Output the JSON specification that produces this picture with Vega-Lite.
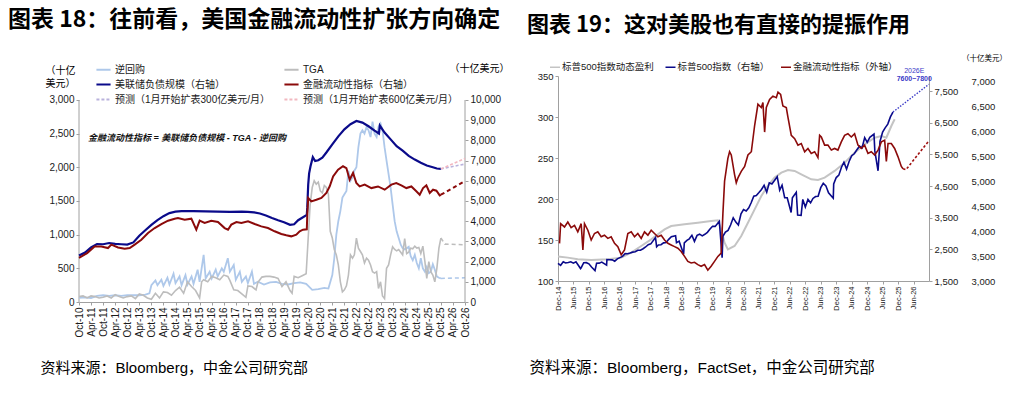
{
"$schema": "https://vega.github.io/schema/vega-lite/v6.json",
"background": "white",
"padding": {"left": 8, "top": 8, "right": 0, "bottom": 0},
"spacing": 18,
"config": {
  "view": {"stroke": null},
  "font": "Liberation Sans, Noto Sans CJK SC",
  "axis": {"grid": false, "domainColor": "#a0a0a0", "tickColor": "#a0a0a0", "labelColor": "#1a1a1a", "labelFont": "Liberation Sans", "titleFont": "Noto Sans CJK SC", "titleFontWeight": "normal", "titleColor": "#000000", "tickSize": 3, "labelFlush": false, "labelOverlap": false, "labelBound": false},
  "title": {"font": "Noto Sans CJK SC", "fontWeight": "bold", "fontSize": 22, "color": "#000000"},
  "legend": {"padding": 0, "labelFont": "Liberation Sans, Noto Sans CJK SC", "labelColor": "#1a1a1a", "labelLimit": 300}
},
"resolve": {"scale": {"color": "independent", "strokeDash": "independent"}},
"hconcat": [
{
  "width": 386, "height": 226,
  "title": {"text": "图表 18：往前看，美国金融流动性扩张方向确定", "anchor": "start", "frame": "group", "dx": -71, "offset": 29.5, "fontSize": 23},
  "encoding": {
    "x": {"field": "d", "type": "temporal",
      "scale": {"domain": [{"year": 2010, "month": 10, "date": 1}, {"year": 2026, "month": 10, "date": 1}]},
      "axis": {
        "values": [{"year":2010,"month":10,"date":1},{"year":2011,"month":4,"date":1},{"year":2011,"month":10,"date":1},{"year":2012,"month":4,"date":1},{"year":2012,"month":10,"date":1},{"year":2013,"month":4,"date":1},{"year":2013,"month":10,"date":1},{"year":2014,"month":4,"date":1},{"year":2014,"month":10,"date":1},{"year":2015,"month":4,"date":1},{"year":2015,"month":10,"date":1},{"year":2016,"month":4,"date":1},{"year":2016,"month":10,"date":1},{"year":2017,"month":4,"date":1},{"year":2017,"month":10,"date":1},{"year":2018,"month":4,"date":1},{"year":2018,"month":10,"date":1},{"year":2019,"month":4,"date":1},{"year":2019,"month":10,"date":1},{"year":2020,"month":4,"date":1},{"year":2020,"month":10,"date":1},{"year":2021,"month":4,"date":1},{"year":2021,"month":10,"date":1},{"year":2022,"month":4,"date":1},{"year":2022,"month":10,"date":1},{"year":2023,"month":4,"date":1},{"year":2023,"month":10,"date":1},{"year":2024,"month":4,"date":1},{"year":2024,"month":10,"date":1},{"year":2025,"month":4,"date":1},{"year":2025,"month":10,"date":1},{"year":2026,"month":4,"date":1},{"year":2026,"month":10,"date":1}],
        "format": "%b-%y", "labelAngle": -90, "labelFontSize": 10,
        "title": "资料来源：Bloomberg，中金公司研究部", "titleX": -39, "titleY": 65, "titleAlign": "left", "titleAnchor": "start", "titleBaseline": "middle", "titleFontSize": 15, "titleFont": "Liberation Sans Narrow, Liberation Sans, Noto Sans CJK SC"
      }
    }
  },
  "layer": [
    {
      "encoding": {"y": {"field": "v", "type": "quantitative", "scale": {"domain": [0, 3356.4], "nice": false},
        "axis": {"orient": "left", "values": [0,500,1000,1500,2000,2500,3000], "format": ",.0f", "labelFontSize": 10, "domain": false,
          "title": ["（十亿", "美元）"], "titleAngle": 0, "titleX": -19, "titleY": -5.5, "titleAlign": "center", "titleBaseline": "middle", "titleFontSize": 10, "titleLineHeight": 13}}},
      "layer": [
        {"data": {"values": [{"d":"2010-10-01","v":0,"v2":3000}]},
         "mark": {"type": "rule", "color": "#a0a0a0", "strokeWidth": 1},
         "encoding": {"y2": {"field": "v2"}}},
        {"data": {"values": [{"d":"2010-10","v":60},{"d":"2011-01","v":70},{"d":"2011-04","v":60},{"d":"2011-07","v":90},{"d":"2011-10","v":100},{"d":"2012-01","v":90},{"d":"2012-04","v":100},{"d":"2012-07","v":90},{"d":"2012-10","v":100},{"d":"2013-01","v":100},{"d":"2013-04","v":100},{"d":"2013-07","v":110},{"d":"2013-09","v":130},{"d":"2013-10","v":250},{"d":"2013-12","v":320},{"d":"2014-01","v":250},{"d":"2014-03","v":330},{"d":"2014-04","v":240},{"d":"2014-06","v":360},{"d":"2014-07","v":260},{"d":"2014-09","v":420},{"d":"2014-10","v":280},{"d":"2014-12","v":380},{"d":"2015-01","v":250},{"d":"2015-03","v":400},{"d":"2015-04","v":260},{"d":"2015-06","v":380},{"d":"2015-07","v":270},{"d":"2015-09","v":480},{"d":"2015-10","v":300},{"d":"2015-12","v":700},{"d":"2016-01","v":350},{"d":"2016-03","v":450},{"d":"2016-04","v":350},{"d":"2016-06","v":480},{"d":"2016-07","v":380},{"d":"2016-09","v":500},{"d":"2016-10","v":450},{"d":"2016-12","v":650},{"d":"2017-01","v":450},{"d":"2017-03","v":550},{"d":"2017-04","v":330},{"d":"2017-06","v":450},{"d":"2017-07","v":300},{"d":"2017-09","v":380},{"d":"2017-10","v":280},{"d":"2017-12","v":450},{"d":"2018-01","v":270},{"d":"2018-03","v":300},{"d":"2018-06","v":260},{"d":"2018-09","v":290},{"d":"2018-12","v":300},{"d":"2019-03","v":270},{"d":"2019-06","v":260},{"d":"2019-09","v":280},{"d":"2019-12","v":290},{"d":"2020-03","v":270},{"d":"2020-06","v":180},{"d":"2020-09","v":190},{"d":"2020-12","v":210},{"d":"2021-02","v":200},{"d":"2021-04","v":400},{"d":"2021-05","v":650},{"d":"2021-06","v":1000},{"d":"2021-07","v":1200},{"d":"2021-08","v":1350},{"d":"2021-09","v":1550},{"d":"2021-10","v":1600},{"d":"2021-11","v":1650},{"d":"2021-12","v":1950},{"d":"2022-01","v":1800},{"d":"2022-02","v":1850},{"d":"2022-03","v":1950},{"d":"2022-04","v":2000},{"d":"2022-05","v":2300},{"d":"2022-06","v":2500},{"d":"2022-07","v":2550},{"d":"2022-08","v":2500},{"d":"2022-09","v":2600},{"d":"2022-10","v":2550},{"d":"2022-11","v":2450},{"d":"2022-12","v":2680},{"d":"2023-01","v":2500},{"d":"2023-02","v":2450},{"d":"2023-03","v":2600},{"d":"2023-04","v":2650},{"d":"2023-05","v":2550},{"d":"2023-06","v":2300},{"d":"2023-07","v":2100},{"d":"2023-08","v":1900},{"d":"2023-09","v":1700},{"d":"2023-10","v":1450},{"d":"2023-11","v":1200},{"d":"2023-12","v":1050},{"d":"2024-01","v":950},{"d":"2024-02","v":850},{"d":"2024-03","v":800},{"d":"2024-04","v":780},{"d":"2024-05","v":800},{"d":"2024-06","v":820},{"d":"2024-07","v":680},{"d":"2024-08","v":620},{"d":"2024-09","v":700},{"d":"2024-10","v":580},{"d":"2024-11","v":500},{"d":"2024-12","v":650},{"d":"2025-01","v":500},{"d":"2025-02","v":450},{"d":"2025-03","v":520},{"d":"2025-04","v":430},{"d":"2025-05","v":450},{"d":"2025-06","v":560},{"d":"2025-07","v":480},{"d":"2025-08","v":380},{"d":"2025-09","v":360},{"d":"2025-10","v":350}]},
         "mark": {"type": "line", "strokeWidth": 1.8},
         "encoding": {"color": {"datum": "逆回购", "type": "nominal",
           "scale": {"domain": ["逆回购", "TGA", "美联储负债规模（右轴）", "金融流动性指标（右轴）", "预测（1月开始扩表300亿美元/月）", "预测（1月开始扩表600亿美元/月）"], "range": ["#aec8ea", "#bdbdbd", "#0a0a8a", "#8b0a0a", "#b9b2dc", "#f2b8c0"]},
           "legend": {"orient": "none", "legendX": 16, "legendY": -15, "columns": 2, "direction": "horizontal", "title": null, "symbolType": "stroke", "symbolSize": 200, "symbolStrokeWidth": 2, "labelFontSize": 10, "labelOffset": 3, "columnPadding": 9, "rowPadding": 1,
             "encode": {"symbols": {"update": {"strokeDash": {"signal": "indexof(datum.label, '预测') === 0 ? [3, 2] : [1, 0]"}}}}}}}},
        {"data": {"values": [{"d":"2010-10","v":80},{"d":"2010-12","v":90},{"d":"2011-02","v":60},{"d":"2011-04","v":90},{"d":"2011-06","v":80},{"d":"2011-08","v":60},{"d":"2011-10","v":70},{"d":"2011-12","v":90},{"d":"2012-02","v":60},{"d":"2012-04","v":110},{"d":"2012-06","v":80},{"d":"2012-08","v":60},{"d":"2012-10","v":80},{"d":"2012-12","v":90},{"d":"2013-02","v":50},{"d":"2013-04","v":120},{"d":"2013-06","v":100},{"d":"2013-08","v":60},{"d":"2013-10","v":40},{"d":"2013-12","v":130},{"d":"2014-02","v":60},{"d":"2014-04","v":150},{"d":"2014-06","v":140},{"d":"2014-08","v":100},{"d":"2014-10","v":170},{"d":"2014-12","v":220},{"d":"2015-02","v":130},{"d":"2015-04","v":300},{"d":"2015-06","v":230},{"d":"2015-08","v":170},{"d":"2015-10","v":60},{"d":"2015-11","v":300},{"d":"2015-12","v":330},{"d":"2016-02","v":300},{"d":"2016-04","v":380},{"d":"2016-06","v":360},{"d":"2016-08","v":330},{"d":"2016-10","v":400},{"d":"2016-12","v":380},{"d":"2017-01","v":320},{"d":"2017-03","v":180},{"d":"2017-05","v":170},{"d":"2017-07","v":120},{"d":"2017-09","v":70},{"d":"2017-10","v":240},{"d":"2017-12","v":230},{"d":"2018-02","v":180},{"d":"2018-03","v":290},{"d":"2018-05","v":370},{"d":"2018-07","v":380},{"d":"2018-09","v":380},{"d":"2018-11","v":370},{"d":"2019-01","v":350},{"d":"2019-03","v":230},{"d":"2019-05","v":300},{"d":"2019-07","v":170},{"d":"2019-08","v":130},{"d":"2019-09","v":380},{"d":"2019-11","v":360},{"d":"2020-01","v":390},{"d":"2020-03","v":420},{"d":"2020-04","v":950},{"d":"2020-05","v":1450},{"d":"2020-06","v":1700},{"d":"2020-07","v":1800},{"d":"2020-08","v":1750},{"d":"2020-09","v":1780},{"d":"2020-10","v":1650},{"d":"2020-11","v":1620},{"d":"2020-12","v":1730},{"d":"2021-01","v":1700},{"d":"2021-02","v":1600},{"d":"2021-03","v":1050},{"d":"2021-04","v":950},{"d":"2021-05","v":780},{"d":"2021-06","v":700},{"d":"2021-07","v":550},{"d":"2021-08","v":300},{"d":"2021-09","v":150},{"d":"2021-10","v":180},{"d":"2021-11","v":240},{"d":"2021-12","v":400},{"d":"2022-01","v":700},{"d":"2022-02","v":650},{"d":"2022-03","v":700},{"d":"2022-04","v":950},{"d":"2022-05","v":800},{"d":"2022-06","v":750},{"d":"2022-07","v":700},{"d":"2022-08","v":580},{"d":"2022-09","v":650},{"d":"2022-10","v":620},{"d":"2022-11","v":550},{"d":"2022-12","v":450},{"d":"2023-01","v":430},{"d":"2023-02","v":450},{"d":"2023-03","v":200},{"d":"2023-04","v":300},{"d":"2023-05","v":90},{"d":"2023-06","v":50},{"d":"2023-07","v":500},{"d":"2023-08","v":550},{"d":"2023-09","v":700},{"d":"2023-10","v":820},{"d":"2023-11","v":780},{"d":"2023-12","v":760},{"d":"2024-01","v":780},{"d":"2024-02","v":740},{"d":"2024-03","v":700},{"d":"2024-04","v":940},{"d":"2024-05","v":720},{"d":"2024-06","v":740},{"d":"2024-07","v":800},{"d":"2024-08","v":790},{"d":"2024-09","v":830},{"d":"2024-10","v":800},{"d":"2024-11","v":810},{"d":"2024-12","v":720},{"d":"2025-01","v":830},{"d":"2025-02","v":600},{"d":"2025-03","v":350},{"d":"2025-04","v":600},{"d":"2025-05","v":450},{"d":"2025-06","v":400},{"d":"2025-07","v":300},{"d":"2025-08","v":500},{"d":"2025-09","v":800},{"d":"2025-10","v":950}]},
         "mark": {"type": "line", "strokeWidth": 1.6},
         "encoding": {"color": {"datum": "TGA", "type": "nominal"}}},
        {"data": {"values": [{"d":"2025-10","v":350},{"d":"2026-10","v":360}]},
         "mark": {"type": "line", "color": "#aec8ea", "strokeDash": [4, 3], "strokeWidth": 1.6}, "encoding": {}},
        {"data": {"values": [{"d":"2025-10","v":950},{"d":"2025-12","v":860},{"d":"2026-10","v":850}]},
         "mark": {"type": "line", "color": "#bdbdbd", "strokeDash": [4, 3], "strokeWidth": 1.6}, "encoding": {}},
        {"data": {"values": [{"d":"2011-02-15","v":2440,"t":"金融流动性指标 = 美联储负债规模 - TGA - 逆回购"}]},
         "mark": {"type": "text", "align": "left", "baseline": "middle", "font": "Liberation Sans, Noto Sans CJK SC", "fontSize": 9, "fontStyle": "italic", "fontWeight": "bold", "color": "#111111"},
         "encoding": {"text": {"field": "t"}}}
      ]
    },
    {
      "encoding": {"y": {"field": "v", "type": "quantitative", "scale": {"domain": [0, 11188], "nice": false},
        "axis": {"orient": "right", "values": [0,1000,2000,3000,4000,5000,6000,7000,8000,9000,10000], "format": ",.0f", "labelFontSize": 10, "domain": false,
          "title": "（十亿美元）", "titleAngle": 0, "titleX": 14, "titleY": -8, "titleAlign": "center", "titleBaseline": "middle", "titleFontSize": 10}}},
      "layer": [
        {"data": {"values": [{"d":"2026-10-01","v":0,"v2":10000}]},
         "mark": {"type": "rule", "color": "#a0a0a0", "strokeWidth": 1},
         "encoding": {"y2": {"field": "v2"}}},
        {"data": {"values": [{"d":"2010-10","v":2300},{"d":"2011-01","v":2450},{"d":"2011-04","v":2700},{"d":"2011-07","v":2870},{"d":"2011-10","v":2860},{"d":"2012-01","v":2920},{"d":"2012-04","v":2880},{"d":"2012-07","v":2860},{"d":"2012-10","v":2840},{"d":"2013-01","v":2950},{"d":"2013-04","v":3280},{"d":"2013-07","v":3550},{"d":"2013-10","v":3820},{"d":"2014-01","v":4050},{"d":"2014-04","v":4250},{"d":"2014-07","v":4400},{"d":"2014-10","v":4470},{"d":"2015-01","v":4500},{"d":"2015-07","v":4500},{"d":"2016-01","v":4490},{"d":"2016-07","v":4470},{"d":"2017-01","v":4460},{"d":"2017-07","v":4470},{"d":"2017-10","v":4460},{"d":"2018-01","v":4440},{"d":"2018-04","v":4380},{"d":"2018-07","v":4280},{"d":"2018-10","v":4160},{"d":"2019-01","v":4050},{"d":"2019-04","v":3950},{"d":"2019-07","v":3820},{"d":"2019-09","v":3850},{"d":"2019-11","v":4050},{"d":"2020-01","v":4170},{"d":"2020-03-11","v":4310},{"d":"2020-03-18","v":4670},{"d":"2020-03-25","v":5250},{"d":"2020-04-01","v":5800},{"d":"2020-04-15","v":6370},{"d":"2020-05-06","v":6720},{"d":"2020-06-10","v":7170},{"d":"2020-07-15","v":6980},{"d":"2020-09-01","v":7020},{"d":"2020-11-01","v":7150},{"d":"2021-01","v":7400},{"d":"2021-04","v":7800},{"d":"2021-07","v":8200},{"d":"2021-10","v":8550},{"d":"2022-01","v":8800},{"d":"2022-04","v":8960},{"d":"2022-07","v":8880},{"d":"2022-10","v":8700},{"d":"2023-01","v":8480},{"d":"2023-03-08","v":8340},{"d":"2023-03-22","v":8730},{"d":"2023-06","v":8390},{"d":"2023-09","v":8050},{"d":"2023-12","v":7710},{"d":"2024-03","v":7490},{"d":"2024-06","v":7230},{"d":"2024-09","v":7050},{"d":"2024-12","v":6890},{"d":"2025-03","v":6760},{"d":"2025-06","v":6670},{"d":"2025-08","v":6610},{"d":"2025-10","v":6590}]},
         "mark": {"type": "line", "strokeWidth": 2.2},
         "encoding": {"color": {"datum": "美联储负债规模（右轴）", "type": "nominal"}}},
        {"data": {"values": [{"d":"2010-10","v":2180},{"d":"2011-02","v":2420},{"d":"2011-05-25","v":2750},{"d":"2011-09-04","v":2750},{"d":"2011-12-14","v":2670},{"d":"2012-02-03","v":2840},{"d":"2012-05-14","v":2700},{"d":"2012-08-23","v":2640},{"d":"2012-11-07","v":2670},{"d":"2013-01-21","v":2840},{"d":"2013-05-02","v":3085},{"d":"2013-08-11","v":3415},{"d":"2013-11-20","v":3660},{"d":"2014-03-01","v":3860},{"d":"2014-06-10","v":4025},{"d":"2014-09-18","v":4125},{"d":"2014-11-07","v":4160},{"d":"2015-02-17","v":4075},{"d":"2015-05-29","v":4125},{"d":"2015-08-12","v":3580},{"d":"2015-10-02","v":4025},{"d":"2015-12-16","v":3910},{"d":"2016-03-26","v":4025},{"d":"2016-07-05","v":3960},{"d":"2016-10-14","v":3660},{"d":"2016-12-04","v":3580},{"d":"2017-01-23","v":3830},{"d":"2017-04-10","v":3960},{"d":"2017-06-24","v":3910},{"d":"2017-10-03","v":3990},{"d":"2018-01-12","v":3860},{"d":"2018-04-22","v":3745},{"d":"2018-08-01","v":3660},{"d":"2018-11-10","v":3500},{"d":"2019-02-19","v":3365},{"d":"2019-05-05","v":3300},{"d":"2019-07-20","v":3250},{"d":"2019-10-04","v":3330},{"d":"2019-11-24","v":3500},{"d":"2020-01-13","v":3580},{"d":"2020-03-11","v":3600},{"d":"2020-03-18","v":4300},{"d":"2020-04-01","v":5150},{"d":"2020-05-18","v":4980},{"d":"2020-08-03","v":5060},{"d":"2020-10-18","v":5150},{"d":"2021-01-01","v":5400},{"d":"2021-02-21","v":5730},{"d":"2021-04-13","v":6220},{"d":"2021-06-27","v":6550},{"d":"2021-09-10","v":6720},{"d":"2021-10-31","v":6630},{"d":"2021-12-20","v":6055},{"d":"2022-02-09","v":6390},{"d":"2022-03-31","v":5890},{"d":"2022-05-20","v":5720},{"d":"2022-08-04","v":5810},{"d":"2022-11-13","v":5640},{"d":"2023-02-22","v":5720},{"d":"2023-06-03","v":5560},{"d":"2023-09-12","v":5810},{"d":"2023-11-26","v":5890},{"d":"2024-02-10","v":5770},{"d":"2024-04-26","v":5640},{"d":"2024-07-11","v":5720},{"d":"2024-09-24","v":5480},{"d":"2024-11-14","v":5310},{"d":"2025-01-04","v":5640},{"d":"2025-02-23","v":5770},{"d":"2025-04-15","v":5400},{"d":"2025-06-04","v":5560},{"d":"2025-07-25","v":5510},{"d":"2025-09-13","v":5280},{"d":"2025-10","v":5310}]},
         "mark": {"type": "line", "strokeWidth": 2},
         "encoding": {"color": {"datum": "金融流动性指标（右轴）", "type": "nominal"}}},
        {"data": {"values": [{"d":"2025-10","v":6590},{"d":"2026-10","v":6830}]},
         "mark": {"type": "line", "strokeDash": [3, 2], "strokeWidth": 1.6},
         "encoding": {"color": {"datum": "预测（1月开始扩表300亿美元/月）", "type": "nominal"}}},
        {"data": {"values": [{"d":"2025-10","v":6590},{"d":"2026-10","v":7100}]},
         "mark": {"type": "line", "strokeDash": [3, 2], "strokeWidth": 1.6},
         "encoding": {"color": {"datum": "预测（1月开始扩表600亿美元/月）", "type": "nominal"}}},
        {"data": {"values": [{"d":"2025-10","v":5310},{"d":"2026-10","v":5990}]},
         "mark": {"type": "line", "color": "#8b0a0a", "strokeDash": [4, 3], "strokeWidth": 2}, "encoding": {}}
      ]
    }
  ],
  "resolve": {"scale": {"y": "independent"}}
},
{
  "width": 371, "height": 205,
  "title": {"text": "图表 19：这对美股也有直接的提振作用", "anchor": "start", "frame": "group", "dx": -31, "offset": 17},
  "encoding": {
    "x": {"field": "d", "type": "temporal",
      "scale": {"domain": [{"year": 2014, "month": 12, "date": 1}, {"year": 2026, "month": 12, "date": 1}]},
      "axis": {
        "values": [{"year":2014,"month":12,"date":1},{"year":2015,"month":6,"date":1},{"year":2015,"month":12,"date":1},{"year":2016,"month":6,"date":1},{"year":2016,"month":12,"date":1},{"year":2017,"month":6,"date":1},{"year":2017,"month":12,"date":1},{"year":2018,"month":6,"date":1},{"year":2018,"month":12,"date":1},{"year":2019,"month":6,"date":1},{"year":2019,"month":12,"date":1},{"year":2020,"month":6,"date":1},{"year":2020,"month":12,"date":1},{"year":2021,"month":6,"date":1},{"year":2021,"month":12,"date":1},{"year":2022,"month":6,"date":1},{"year":2022,"month":12,"date":1},{"year":2023,"month":6,"date":1},{"year":2023,"month":12,"date":1},{"year":2024,"month":6,"date":1},{"year":2024,"month":12,"date":1},{"year":2025,"month":6,"date":1},{"year":2025,"month":12,"date":1},{"year":2026,"month":6,"date":1}],
        "format": "%b-%y", "labelAngle": -90, "labelFontSize": 7.5,
        "title": "资料来源：Bloomberg，FactSet，中金公司研究部", "titleX": -29, "titleY": 86, "titleAlign": "left", "titleAnchor": "start", "titleBaseline": "middle", "titleFontSize": 15.5, "titleFont": "Liberation Sans Narrow, Liberation Sans, Noto Sans CJK SC"
      }
    }
  },
  "layer": [
    {
      "data": {"values": [{"d":"2014-12","v":130},{"d":"2015-03-27","v":128.5},{"d":"2015-07-23","v":126.5},{"d":"2015-12-28","v":125.7},{"d":"2016-07-12","v":126.5},{"d":"2016-12-17","v":128.5},{"d":"2017-04-14","v":134.6},{"d":"2017-08-10","v":142.7},{"d":"2017-12-06","v":150.8},{"d":"2018-02-23","v":156.9},{"d":"2018-05-13","v":163},{"d":"2018-07-30","v":167},{"d":"2019-01-04","v":169.1},{"d":"2019-06-10","v":171.1},{"d":"2019-11-14","v":173.1},{"d":"2020-02-02","v":174},{"d":"2020-03-12","v":163},{"d":"2020-04-21","v":146.8},{"d":"2020-05-30","v":138.6},{"d":"2020-08-17","v":142.7},{"d":"2020-11-04","v":154.9},{"d":"2021-01-22","v":171.1},{"d":"2021-04-11","v":187.4},{"d":"2021-06-29","v":203.7},{"d":"2021-09-15","v":215.9},{"d":"2021-12-03","v":226.1},{"d":"2022-02-21","v":232.2},{"d":"2022-05-10","v":235.4},{"d":"2022-07-28","v":234.2},{"d":"2022-10-14","v":230.1},{"d":"2023-02-09","v":224},{"d":"2023-04-29","v":223.2},{"d":"2023-07-17","v":226.1},{"d":"2023-11-12","v":234.2},{"d":"2024-03-09","v":244.3},{"d":"2024-07-05","v":256.5},{"d":"2024-10-31","v":266.7},{"d":"2025-02-27","v":274.8},{"d":"2025-05-17","v":276.8},{"d":"2025-07-15","v":274.8},{"d":"2025-09-12","v":289},{"d":"2025-10-21","v":297.2}]},
      "mark": {"type": "line", "strokeWidth": 2},
      "encoding": {
        "y": {"field": "v", "type": "quantitative", "scale": {"domain": [100, 350], "nice": false},
          "axis": {"orient": "left", "values": [100,150,200,250,300,350], "labelFontSize": 9.5, "title": null}},
        "color": {"datum": "标普500指数动态盈利", "type": "nominal",
          "scale": {"domain": ["标普500指数动态盈利", "标普500指数（右轴）", "金融流动性指标（外轴）"], "range": ["#c4c4c4", "#0a0a8a", "#8b0a0a"]},
          "legend": {"orient": "none", "legendX": -9, "legendY": -15, "direction": "horizontal", "title": null, "symbolType": "stroke", "symbolSize": 100, "symbolStrokeWidth": 1.5, "labelFontSize": 9.5, "labelOffset": 1, "columnPadding": 8.5}}
      }
    },
    {
      "encoding": {"y": {"field": "v", "type": "quantitative", "scale": {"domain": [1500, 7980], "nice": false},
        "axis": {"orient": "right", "values": [1500,2500,3500,4500,5500,6500,7500], "format": ",.0f", "labelFontSize": 9.5, "title": null}}},
      "layer": [
        {"data": {"values": [{"d":"2014-12","v":2059},{"d":"2015-01","v":1995},{"d":"2015-02","v":2105},{"d":"2015-03","v":2068},{"d":"2015-04","v":2086},{"d":"2015-05","v":2107},{"d":"2015-06","v":2063},{"d":"2015-07","v":2104},{"d":"2015-08-24","v":1893},{"d":"2015-09","v":1920},{"d":"2015-10","v":2079},{"d":"2015-11","v":2080},{"d":"2015-12","v":2044},{"d":"2016-01","v":1940},{"d":"2016-02-11","v":1829},{"d":"2016-03","v":2060},{"d":"2016-04","v":2065},{"d":"2016-05","v":2097},{"d":"2016-06-27","v":2000},{"d":"2016-07","v":2174},{"d":"2016-08","v":2171},{"d":"2016-09","v":2168},{"d":"2016-10","v":2126},{"d":"2016-11","v":2199},{"d":"2016-12","v":2239},{"d":"2017-01","v":2279},{"d":"2017-02","v":2364},{"d":"2017-03","v":2363},{"d":"2017-04","v":2384},{"d":"2017-05","v":2412},{"d":"2017-06","v":2423},{"d":"2017-07","v":2470},{"d":"2017-08","v":2472},{"d":"2017-09","v":2519},{"d":"2017-10","v":2575},{"d":"2017-11","v":2648},{"d":"2017-12","v":2674},{"d":"2018-01-26","v":2873},{"d":"2018-02-08","v":2581},{"d":"2018-03","v":2641},{"d":"2018-04","v":2648},{"d":"2018-05","v":2705},{"d":"2018-06","v":2718},{"d":"2018-07","v":2816},{"d":"2018-08","v":2902},{"d":"2018-09-20","v":2930},{"d":"2018-10","v":2712},{"d":"2018-11","v":2760},{"d":"2018-12-24","v":2351},{"d":"2019-01","v":2704},{"d":"2019-02","v":2784},{"d":"2019-03","v":2834},{"d":"2019-04","v":2946},{"d":"2019-05","v":2752},{"d":"2019-06","v":2942},{"d":"2019-07","v":2980},{"d":"2019-08","v":2926},{"d":"2019-09","v":2977},{"d":"2019-10","v":3038},{"d":"2019-11","v":3141},{"d":"2019-12","v":3231},{"d":"2020-01","v":3226},{"d":"2020-02-19","v":3386},{"d":"2020-03-23","v":2237},{"d":"2020-04","v":2912},{"d":"2020-05","v":3044},{"d":"2020-06","v":3100},{"d":"2020-07","v":3271},{"d":"2020-08","v":3500},{"d":"2020-09","v":3363},{"d":"2020-10","v":3270},{"d":"2020-11","v":3622},{"d":"2020-12","v":3756},{"d":"2021-01","v":3714},{"d":"2021-02","v":3811},{"d":"2021-03","v":3973},{"d":"2021-04","v":4181},{"d":"2021-05","v":4204},{"d":"2021-06","v":4298},{"d":"2021-07","v":4395},{"d":"2021-08","v":4523},{"d":"2021-09","v":4308},{"d":"2021-10","v":4605},{"d":"2021-11","v":4567},{"d":"2022-01-03","v":4797},{"d":"2022-02","v":4374},{"d":"2022-03","v":4530},{"d":"2022-04","v":4132},{"d":"2022-05","v":4132},{"d":"2022-06-16","v":3667},{"d":"2022-07","v":4130},{"d":"2022-08-16","v":4305},{"d":"2022-09","v":3586},{"d":"2022-10-12","v":3577},{"d":"2022-11","v":4080},{"d":"2022-12","v":3840},{"d":"2023-01","v":4077},{"d":"2023-02","v":3970},{"d":"2023-03","v":4109},{"d":"2023-04","v":4169},{"d":"2023-05","v":4180},{"d":"2023-06","v":4450},{"d":"2023-07","v":4589},{"d":"2023-08","v":4508},{"d":"2023-09","v":4288},{"d":"2023-10-27","v":4117},{"d":"2023-11","v":4568},{"d":"2023-12","v":4770},{"d":"2024-01","v":4846},{"d":"2024-02","v":5096},{"d":"2024-03","v":5254},{"d":"2024-04","v":5036},{"d":"2024-05","v":5278},{"d":"2024-06","v":5460},{"d":"2024-07","v":5522},{"d":"2024-08","v":5648},{"d":"2024-09","v":5762},{"d":"2024-10","v":5705},{"d":"2024-11","v":6032},{"d":"2024-12","v":5882},{"d":"2025-01","v":6041},{"d":"2025-02-19","v":6144},{"d":"2025-03","v":5612},{"d":"2025-04-08","v":4983},{"d":"2025-05","v":5912},{"d":"2025-06","v":6205},{"d":"2025-07","v":6339},{"d":"2025-08","v":6460},{"d":"2025-09","v":6688},{"d":"2025-10","v":6840}]},
         "mark": {"type": "line", "strokeWidth": 1.6},
         "encoding": {"color": {"datum": "标普500指数（右轴）", "type": "nominal"}}},
        {"data": {"values": [{"d":"2025-10","v":6840},{"d":"2026-12","v":7720}]},
         "mark": {"type": "line", "color": "#3b3bc8", "strokeDash": [1.5, 1.5], "strokeWidth": 1.4}, "encoding": {}},
        {"data": {"values": [{"d":"2026-06-10","v":8140,"t":"2026E"}]},
         "mark": {"type": "text", "align": "center", "baseline": "middle", "fontSize": 7, "color": "#3b3bc8", "font": "Liberation Sans"},
         "encoding": {"text": {"field": "t"}}},
        {"data": {"values": [{"d":"2026-06-10","v":7870,"t":"7600~7800"}]},
         "mark": {"type": "text", "align": "center", "baseline": "middle", "fontSize": 7, "fontWeight": "bold", "color": "#3b3bc8", "font": "Liberation Sans"},
         "encoding": {"text": {"field": "t"}}}
      ]
    },
    {
      "encoding": {"y": {"field": "v", "type": "quantitative", "scale": {"domain": [3000, 7120], "nice": false},
        "axis": {"orient": "right", "offset": 40, "values": [3000,3500,4000,4500,5000,5500,6000,6500,7000], "format": ",.0f", "labelFontSize": 9.5, "domain": false, "ticks": false, "labelPadding": 2,
          "title": "（十亿美元）", "titleAngle": 0, "titleX": 15, "titleY": -18, "titleAlign": "center", "titleBaseline": "middle", "titleFontSize": 7.5}}},
      "layer": [
        {"data": {"values": [{"d":"2014-12-19","v":3757},{"d":"2015-01-01","v":4152},{"d":"2015-02-16","v":4086},{"d":"2015-03-27","v":4184},{"d":"2015-05-05","v":4073},{"d":"2015-06-14","v":4119},{"d":"2015-07-23","v":3987},{"d":"2015-09-01","v":4152},{"d":"2015-09-21","v":3625},{"d":"2015-10-10","v":4152},{"d":"2015-11-19","v":4020},{"d":"2015-12-28","v":3823},{"d":"2016-02-05","v":3955},{"d":"2016-03-15","v":3987},{"d":"2016-04-24","v":3888},{"d":"2016-06-02","v":3921},{"d":"2016-07-12","v":3856},{"d":"2016-08-20","v":3888},{"d":"2016-09-29","v":3757},{"d":"2016-11-07","v":3691},{"d":"2016-12-17","v":3527},{"d":"2017-01-25","v":3625},{"d":"2017-03-05","v":3955},{"d":"2017-04-14","v":3987},{"d":"2017-05-23","v":3888},{"d":"2017-07-01","v":3955},{"d":"2017-08-10","v":3856},{"d":"2017-09-18","v":3987},{"d":"2017-10-28","v":3921},{"d":"2017-12-06","v":4020},{"d":"2018-01-14","v":3955},{"d":"2018-02-23","v":3888},{"d":"2018-04-03","v":3921},{"d":"2018-05-13","v":3823},{"d":"2018-06-21","v":3757},{"d":"2018-07-30","v":3724},{"d":"2018-09-08","v":3691},{"d":"2018-10-17","v":3658},{"d":"2018-11-25","v":3593},{"d":"2019-01-04","v":3494},{"d":"2019-02-12","v":3395},{"d":"2019-03-23","v":3363},{"d":"2019-05-02","v":3376},{"d":"2019-06-10","v":3329},{"d":"2019-07-19","v":3296},{"d":"2019-08-28","v":3329},{"d":"2019-10-06","v":3218},{"d":"2019-11-14","v":3296},{"d":"2019-12-24","v":3395},{"d":"2020-02-02","v":3494},{"d":"2020-03-12","v":3560},{"d":"2020-04-01","v":4349},{"d":"2020-04-21","v":5007},{"d":"2020-05-30","v":5466},{"d":"2020-06-19","v":5598},{"d":"2020-07-09","v":5533},{"d":"2020-08-17","v":5138},{"d":"2020-09-06","v":4974},{"d":"2020-09-26","v":5072},{"d":"2020-11-04","v":5204},{"d":"2020-12-14","v":5302},{"d":"2021-01-22","v":5533},{"d":"2021-03-03","v":5598},{"d":"2021-04-11","v":6125},{"d":"2021-05-20","v":6552},{"d":"2021-06-29","v":6486},{"d":"2021-07-18","v":6585},{"d":"2021-08-07","v":5993},{"d":"2021-08-27","v":6486},{"d":"2021-10-05","v":6651},{"d":"2021-11-13","v":6716},{"d":"2021-12-23","v":6684},{"d":"2022-01-12","v":6795},{"d":"2022-02-12","v":6749},{"d":"2022-03-11","v":6519},{"d":"2022-04-20","v":6486},{"d":"2022-05-10","v":6289},{"d":"2022-06-18","v":5927},{"d":"2022-07-28","v":5861},{"d":"2022-09-05","v":5730},{"d":"2022-10-14","v":5763},{"d":"2022-11-23","v":5598},{"d":"2023-01-01","v":5664},{"d":"2023-02-09","v":5565},{"d":"2023-03-21","v":5598},{"d":"2023-04-29","v":5480},{"d":"2023-05-19","v":5927},{"d":"2023-06-08","v":5894},{"d":"2023-07-17","v":5730},{"d":"2023-08-25","v":5730},{"d":"2023-10-04","v":5631},{"d":"2023-11-12","v":5664},{"d":"2023-12-21","v":5631},{"d":"2024-01-30","v":5796},{"d":"2024-03-09","v":5927},{"d":"2024-04-17","v":5960},{"d":"2024-05-27","v":5894},{"d":"2024-07-05","v":5960},{"d":"2024-08-14","v":5730},{"d":"2024-09-22","v":5664},{"d":"2024-10-31","v":5730},{"d":"2024-12-10","v":5565},{"d":"2025-01-18","v":5598},{"d":"2025-02-27","v":5533},{"d":"2025-04-08","v":5631},{"d":"2025-05-17","v":5796},{"d":"2025-06-25","v":5829},{"d":"2025-07-15","v":5401},{"d":"2025-08-04","v":5763},{"d":"2025-09-12","v":5763},{"d":"2025-10-21","v":5664},{"d":"2025-11-29","v":5500},{"d":"2026-01-08","v":5302},{"d":"2026-01-28","v":5257}]},
         "mark": {"type": "line", "strokeWidth": 1.6},
         "encoding": {"color": {"datum": "金融流动性指标（外轴）", "type": "nominal"}}},
        {"data": {"values": [{"d":"2026-01-28","v":5257},{"d":"2026-03-04","v":5237},{"d":"2026-12-01","v":5820}]},
         "mark": {"type": "line", "color": "#a01010", "strokeDash": [2.5, 2], "strokeWidth": 1.6}, "encoding": {}}
      ]
    }
  ],
  "resolve": {"scale": {"y": "independent"}}
}
]
}
